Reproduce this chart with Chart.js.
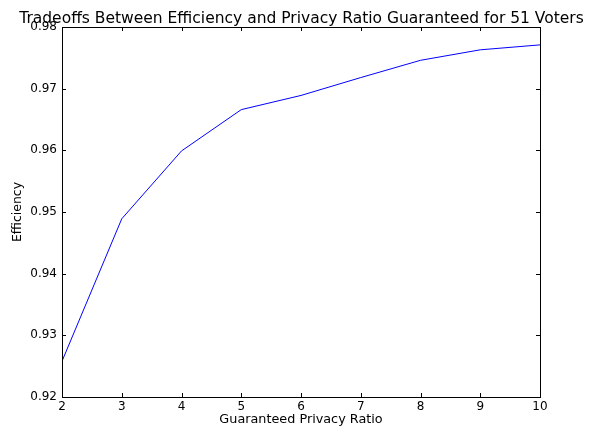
<!DOCTYPE html>
<html>
<head>
<meta charset="utf-8">
<script src="https://cdn.jsdelivr.net/npm/chart.js@4"></script>
<style>
  html, body { margin: 0; padding: 0; background: #fff; }
  #wrap { width: 600px; height: 431px; }
</style>
</head>
<body>
<div id="wrap"><canvas id="myChart" width="600" height="431"></canvas></div>
<script>
const privacyRatio = [2, 3, 4, 5, 6, 7, 8, 9, 10];
const efficiency = [0.9258, 0.9489, 0.9599, 0.9666, 0.9689, 0.9718, 0.9746, 0.9763, 0.9771];
const xTicks = [2, 3, 4, 5, 6, 7, 8, 9, 10];
const yTicks = [0.92, 0.93, 0.94, 0.95, 0.96, 0.97, 0.98];

const titleText = 'Tradeoffs Between Efficiency and Privacy Ratio Guaranteed for 51 Voters';
const FONT = 'DejaVu Sans';

// box + inward ticks on all four sides, matplotlib style
const frame = {
    id: 'frame',
    afterDraw(chart) {
        const ctx = chart.ctx;
        const a = chart.chartArea;
        const xs = chart.scales.x, ys = chart.scales.y;
        ctx.save();
        ctx.strokeStyle = '#000';
        ctx.lineWidth = 1;
        ctx.beginPath();
        xTicks.forEach(v => {
            const px = Math.round(xs.getPixelForValue(v)) + 0.5;
            ctx.moveTo(px, a.bottom); ctx.lineTo(px, a.bottom - 4);
            ctx.moveTo(px, a.top); ctx.lineTo(px, a.top + 4);
        });
        yTicks.forEach(v => {
            const py = Math.round(ys.getPixelForValue(v)) + 0.5;
            ctx.moveTo(a.left, py); ctx.lineTo(a.left + 4, py);
            ctx.moveTo(a.right, py); ctx.lineTo(a.right - 4, py);
        });
        ctx.stroke();
        ctx.strokeRect(Math.round(a.left) + 0.5, Math.round(a.top) + 0.5,
            Math.round(a.right - a.left), Math.round(a.bottom - a.top));

        ctx.fillStyle = '#000';
        ctx.font = '15.5px "' + FONT + '"';
        ctx.textAlign = 'center';
        ctx.textBaseline = 'alphabetic';
        ctx.fillText(titleText, (a.left + a.right) / 2 + 0.5, 22.5);
        ctx.restore();
    }
};

const ctx = document.getElementById('myChart').getContext('2d');
const myChart = new Chart(ctx, {
    type: 'line',
    data: {
        datasets: [{
            data: privacyRatio.map((x, i) => ({ x: x, y: efficiency[i] })),
            borderColor: '#0000ff',
            borderWidth: 1,
            pointRadius: 0,
            tension: 0,
            fill: false
        }]
    },
    options: {
        responsive: false,
        animation: false,
        layout: { padding: { left: 0, right: 60, top: 27, bottom: 0 } },
        plugins: {
            legend: { display: false },
            title: { display: false },
            tooltip: { enabled: false }
        },
        scales: {
            x: {
                type: 'linear',
                min: 2, max: 10,
                afterBuildTicks: s => { s.ticks = xTicks.map(v => ({ value: v })); },
                afterFit: s => { s.height = 34; },
                grid: { display: false, drawTicks: false, tickLength: 0 },
                border: { display: false },
                ticks: {
                    color: '#000', padding: 3, maxRotation: 0,
                    font: { family: FONT, size: 12 },
                    callback: v => String(v)
                },
                title: {
                    display: true, text: 'Guaranteed Privacy Ratio', color: '#000',
                    font: { family: FONT, size: 12.8 }, padding: { top: 0, bottom: 4 }
                }
            },
            y: {
                min: 0.92, max: 0.98,
                afterBuildTicks: s => { s.ticks = yTicks.map(v => ({ value: v })); },
                afterFit: s => { s.width = 62; },
                grid: { display: false, drawTicks: false, tickLength: 0 },
                border: { display: false },
                ticks: {
                    color: '#000', padding: 5,
                    font: { family: FONT, size: 12 },
                    callback: v => v.toFixed(2)
                },
                title: {
                    display: true, text: 'Efficiency', color: '#000',
                    font: { family: FONT, size: 12.5 }, padding: { top: 10, bottom: 0 }
                }
            }
        }
    },
    plugins: [frame]
});
</script>
</body>
</html>
